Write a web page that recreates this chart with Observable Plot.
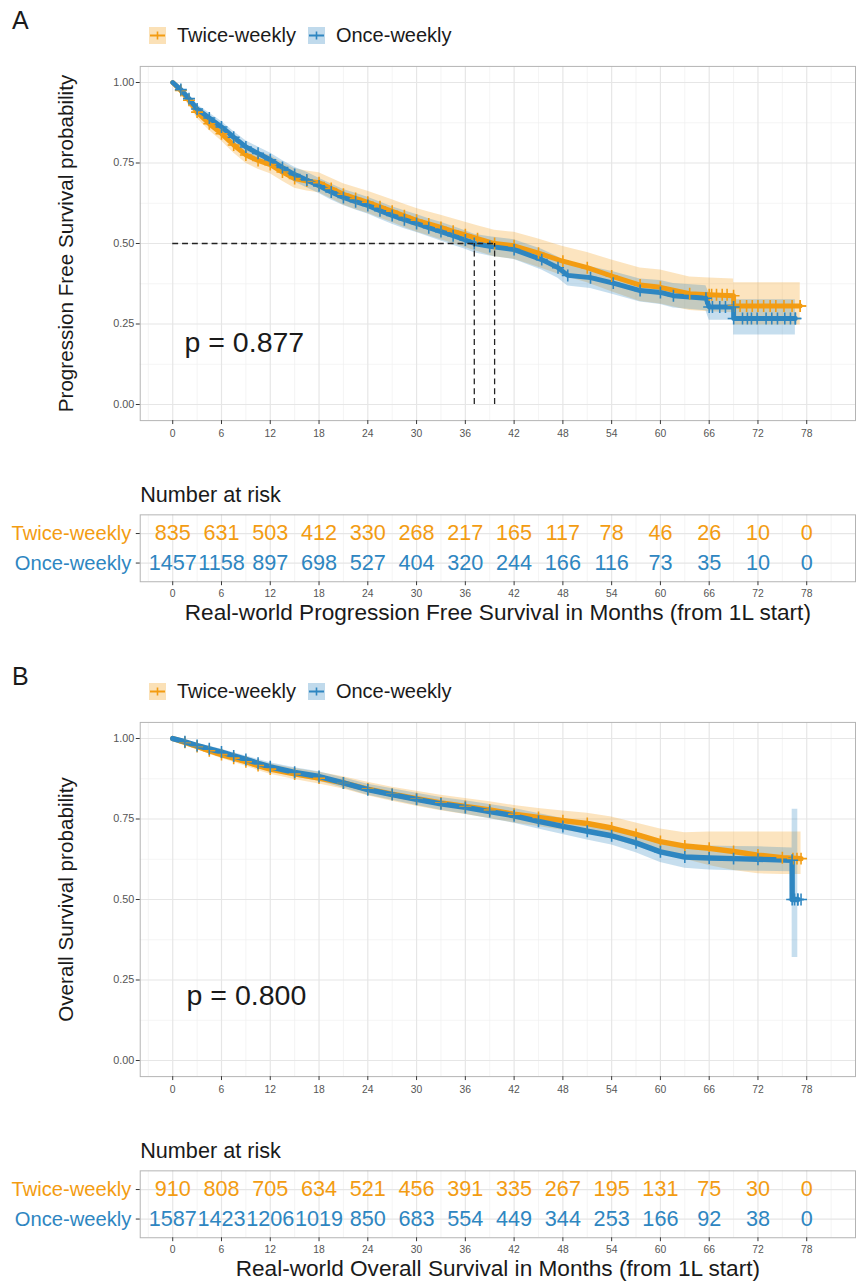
<!DOCTYPE html>
<html><head><meta charset="utf-8">
<script src="https://cdn.jsdelivr.net/npm/d3@7"></script>
<script src="https://cdn.jsdelivr.net/npm/@observablehq/plot@0.6"></script>
<style>
html,body{margin:0;padding:0;background:#fff;overflow:hidden;}
#root{position:relative;width:856px;height:1288px;overflow:hidden;font-family:"Liberation Sans",Arial,Helvetica,sans-serif;color:#1a1a1a;}
.lbl{position:absolute;font-size:25px;line-height:25px;}
.leg{position:absolute;display:flex;align-items:center;font-size:20px;line-height:20px;white-space:nowrap;}
.leg svg{display:block;margin-right:11px;}
.leg span{margin-right:12px;}
</style></head><body><div id="root"></div>
<script>
// ---------- shared ticks / labels ----------
const groups = ["Twice-weekly", "Once-weekly"];
const groupColors = ["#F39C12", "#2E86C1"];
const monthTicks = [0, 6, 12, 18, 24, 30, 36, 42, 48, 54, 60, 66, 72, 78];
const monthMinor = [-3, 3, 9, 15, 21, 27, 33, 39, 45, 51, 57, 63, 69, 75, 81];
const survTicks = [0, 0.25, 0.5, 0.75, 1];
const survMinor = [0.125, 0.375, 0.625, 0.875];

// ---------- Panel A: PFS  [month, survival, lower CI, upper CI] ----------
const pfsTwice = [
  [0,1,1,1],[1,0.975,0.964,0.986],[2,0.945,0.929,0.960],[3,0.908,0.889,0.927],
  [4.5,0.872,0.851,0.893],[6,0.841,0.818,0.864],[7.5,0.806,0.781,0.831],[9,0.775,0.749,0.801],
  [10.5,0.758,0.731,0.785],[12,0.745,0.717,0.773],[13.5,0.722,0.693,0.751],[15,0.702,0.672,0.732],
  [16.5,0.694,0.663,0.725],[18,0.689,0.658,0.720],[19.5,0.671,0.639,0.703],[21,0.653,0.620,0.686],
  [22.5,0.640,0.606,0.674],[24,0.628,0.594,0.662],[25.5,0.614,0.579,0.649],[27,0.600,0.565,0.636],
  [28.5,0.586,0.550,0.622],[30,0.572,0.536,0.609],[31.5,0.561,0.524,0.598],[33,0.550,0.512,0.588],
  [34.5,0.538,0.500,0.577],[36,0.527,0.488,0.566],[37.5,0.515,0.475,0.555],[39.6,0.500,0.459,0.541],
  [42,0.493,0.451,0.535],[45,0.470,0.426,0.514],[48,0.445,0.400,0.491],[51,0.425,0.378,0.472],
  [54,0.399,0.350,0.449],[57.5,0.371,0.320,0.424],[60,0.364,0.312,0.418],[63.6,0.344,0.292,0.396],
  [66,0.341,0.288,0.393],[69,0.338,0.285,0.390],[69.01,0.306,0.247,0.378],[77.2,0.306,0.247,0.378]
];
const pfsOnce = [
  [0,1,1,1],[1,0.978,0.970,0.986],[2,0.950,0.939,0.961],[3,0.918,0.904,0.931],
  [4.5,0.890,0.875,0.905],[6,0.862,0.845,0.879],[7.5,0.830,0.812,0.848],[9,0.800,0.781,0.819],
  [10.5,0.780,0.760,0.800],[12,0.760,0.739,0.781],[13.5,0.736,0.714,0.758],[15,0.714,0.691,0.737],
  [16.5,0.697,0.673,0.721],[18,0.679,0.655,0.703],[19.5,0.660,0.635,0.685],[21,0.643,0.618,0.668],
  [22.5,0.630,0.604,0.656],[24,0.618,0.592,0.644],[25.5,0.602,0.575,0.629],[27,0.587,0.560,0.614],
  [28.5,0.574,0.546,0.602],[30,0.562,0.534,0.590],[31.5,0.549,0.521,0.577],[33,0.537,0.508,0.566],
  [34.5,0.524,0.495,0.553],[36,0.511,0.482,0.540],[37.1,0.500,0.471,0.529],[39,0.491,0.461,0.521],
  [42,0.481,0.450,0.512],[45.4,0.450,0.418,0.482],[47.4,0.425,0.392,0.458],[48.6,0.401,0.368,0.434],
  [51.4,0.394,0.360,0.428],[54.2,0.377,0.342,0.412],[57.5,0.354,0.318,0.390],[60,0.348,0.311,0.385],
  [61.6,0.338,0.300,0.376],[65.6,0.330,0.291,0.369],[66,0.303,0.262,0.344],[69,0.303,0.262,0.344],
  [69.01,0.267,0.216,0.325],[76.6,0.267,0.216,0.325]
];
const pfsTwiceCensor = [[66.3,0.341],[66.9,0.341],[67.6,0.341],[68.2,0.341],[69.8,0.306],[70.6,0.306],
  [71.3,0.306],[72,0.306],[72.7,0.306],[73.5,0.306],[74.2,0.306],[75.2,0.306],[76.2,0.306],[77.2,0.306]];
const pfsOnceCensor = [[66.4,0.303],[67.3,0.303],[68,0.303],[70.1,0.267],[70.7,0.267],[71.2,0.267],
  [71.9,0.267],[73,0.267],[73.7,0.267],[74.4,0.267],[75.3,0.267],[76,0.267],[76.6,0.267]];
const pfsMedians = [37.1, 39.6];
const pfsRiskTwice = [835, 631, 503, 412, 330, 268, 217, 165, 117, 78, 46, 26, 10, 0];
const pfsRiskOnce = [1457, 1158, 897, 698, 527, 404, 320, 244, 166, 116, 73, 35, 10, 0];

// ---------- Panel B: OS ----------
const osTwice = [
  [0,1,1,1],[1.5,0.988,0.981,0.995],[3,0.975,0.966,0.984],[4.5,0.962,0.951,0.973],
  [6,0.950,0.938,0.962],[7.5,0.939,0.926,0.952],[9,0.928,0.914,0.942],[10.5,0.916,0.901,0.931],
  [12,0.905,0.889,0.921],[15,0.890,0.873,0.907],[18,0.877,0.859,0.895],[21,0.862,0.843,0.881],
  [24,0.843,0.822,0.864],[27,0.827,0.805,0.849],[30,0.813,0.790,0.836],[33,0.800,0.776,0.824],
  [36,0.789,0.764,0.814],[39,0.778,0.752,0.804],[42,0.765,0.738,0.792],[45,0.755,0.727,0.783],
  [48,0.745,0.715,0.775],[51,0.736,0.704,0.768],[54,0.722,0.688,0.756],[57,0.702,0.666,0.738],
  [60,0.680,0.641,0.719],[63,0.666,0.625,0.707],[66,0.659,0.606,0.710],[69,0.649,0.590,0.710],
  [72,0.638,0.580,0.710],[75,0.630,0.578,0.710],[77.3,0.627,0.578,0.710]
];
const osOnce = [
  [0,1,1,1],[1.5,0.990,0.985,0.995],[3,0.978,0.971,0.985],[4.5,0.968,0.960,0.976],
  [6,0.958,0.949,0.967],[7.5,0.946,0.936,0.956],[9,0.935,0.924,0.946],[10.5,0.923,0.911,0.935],
  [12,0.912,0.899,0.925],[15,0.895,0.881,0.909],[18,0.882,0.867,0.897],[21,0.862,0.846,0.878],
  [24,0.841,0.824,0.858],[27,0.826,0.808,0.844],[30,0.811,0.792,0.830],[33,0.797,0.777,0.817],
  [36,0.786,0.765,0.807],[39,0.773,0.751,0.795],[42,0.760,0.737,0.783],[45,0.743,0.719,0.767],
  [48,0.727,0.702,0.752],[51,0.712,0.685,0.739],[54,0.698,0.669,0.727],[57,0.676,0.645,0.707],
  [60,0.648,0.615,0.681],[63,0.632,0.597,0.667],[66,0.629,0.592,0.666],[69,0.627,0.589,0.665],
  [72,0.625,0.588,0.664],[76.2,0.622,0.586,0.660],[76.21,0.500,0.320,0.780],[76.9,0.500,0.320,0.780]
];
const osTwiceCensor = [[76.3,0.627],[76.8,0.627]];
const osOnceCensor = [[76.5,0.5],[76.9,0.5],[77.3,0.5]];
const osMedians = [];
const osRiskTwice = [910, 808, 705, 634, 521, 456, 391, 335, 267, 195, 131, 75, 30, 0];
const osRiskOnce = [1587, 1423, 1206, 1019, 850, 683, 554, 449, 344, 253, 166, 92, 38, 0];

// ---------- layout config ----------
const FONT = '"Liberation Sans", Arial, Helvetica, sans-serif';
const W = 870, ML = 142, MR = 1;
const xDomain = [-4, 84];
const panels = [
  {letter: "A", top: 0, yTitle: "Progression Free Survival probability",
   xTitle: "Real-world Progression Free Survival in Months (from 1L start)",
   series: [pfsTwice, pfsOnce], censor: [pfsTwiceCensor, pfsOnceCensor], medians: pfsMedians,
   risk: [pfsRiskTwice, pfsRiskOnce], p: "p = 0.877", pPos: [1.45, 0.19], lineW: 5},
  {letter: "B", top: 656, yTitle: "Overall Survival probability",
   xTitle: "Real-world Overall Survival in Months (from 1L start)",
   series: [osTwice, osOnce], censor: [osTwiceCensor, osOnceCensor], medians: osMedians,
   risk: [osRiskTwice, osRiskOnce], p: "p = 0.800", pPos: [1.7, 0.2], lineW: 5.5}
];

const root = document.getElementById("root");

function place(el, top, left) {
  el.style.position = "absolute";
  el.style.top = top + "px";
  el.style.left = (left || 0) + "px";
  root.appendChild(el);
}

function keySvg(color) {
  return `<svg width="17" height="17" viewBox="0 0 17 17"><rect width="17" height="17" fill="${color}" fill-opacity="0.3"/>` +
    `<line x1="1" x2="16" y1="8.5" y2="8.5" stroke="${color}" stroke-width="2"/>` +
    `<line x1="8.5" x2="8.5" y1="4.5" y2="12.5" stroke="${color}" stroke-width="1.6"/></svg>`;
}

for (const P of panels) {
  // letter
  const L = document.createElement("div");
  L.className = "lbl"; L.textContent = P.letter;
  place(L, P.top + 8, 12);

  // legend
  const leg = document.createElement("div");
  leg.className = "leg";
  leg.innerHTML = groups.map((g, i) => keySvg(groupColors[i]) + `<span>${g}</span>`).join("");
  place(leg, P.top + 25, 149);

  // main survival plot
  const marks = [
    Plot.gridX(monthMinor, {stroke: "#efefef", strokeOpacity: 1, strokeWidth: 0.7}),
    Plot.gridY(survMinor, {stroke: "#efefef", strokeOpacity: 1, strokeWidth: 0.7}),
    Plot.gridX(monthTicks, {stroke: "#e6e6e6", strokeOpacity: 1, strokeWidth: 1.2}),
    Plot.gridY(survTicks, {stroke: "#e6e6e6", strokeOpacity: 1, strokeWidth: 1.2}),
  ];
  P.series.forEach((s, i) => {
    marks.push(Plot.areaY(s, {x: d => d[0], y1: d => d[2], y2: d => d[3],
      fill: groupColors[i], fillOpacity: 0.27}));
  });
  P.series.forEach((s, i) => {
    marks.push(Plot.line(s, {x: d => d[0], y: d => d[1], stroke: groupColors[i],
      strokeWidth: P.lineW, strokeLinejoin: "round"}));
  });
  P.series.forEach((s, i) => {
    marks.push(Plot.dot(s.slice(1).concat(P.censor[i]), {x: d => d[0], y: d => d[1],
      symbol: "plus", r: 4, stroke: groupColors[i], strokeWidth: 1.6}));
  });
  if (P.medians.length) {
    marks.push(Plot.ruleY([0.5], {x1: 0, x2: d3.max(P.medians), stroke: "#222",
      strokeWidth: 1.3, strokeDasharray: "6,4"}));
    marks.push(Plot.ruleX(P.medians, {x: d => d, y1: 0, y2: 0.5, stroke: "#222",
      strokeWidth: 1.3, strokeDasharray: "6,4"}));
  }
  marks.push(
    Plot.frame({stroke: "#b3b3b3", strokeWidth: 1}),
    Plot.text([P.p], {x: P.pPos[0], y: P.pPos[1], text: d => d, textAnchor: "start",
      fontSize: 29, fill: "#1a1a1a"}),
    Plot.axisX(monthTicks, {tickSize: 4, tickPadding: 5, fontSize: 10.5, stroke: "#333", fill: "#555", label: null}),
    Plot.axisY(survTicks, {tickSize: 4, tickPadding: 2, fontSize: 11, tickFormat: d3.format(".2f"),
      stroke: "#333", fill: "#555", label: null}),
    Plot.text([P.yTitle], {frameAnchor: "left", dx: -75, rotate: -90, text: d => d,
      textAnchor: "middle", lineAnchor: "middle", fontSize: 21, fill: "#1a1a1a"})
  );
  const main = Plot.plot({
    width: W, height: 450, marginLeft: ML, marginRight: MR, marginTop: 67, marginBottom: 23,
    x: {domain: xDomain, label: null}, y: {domain: [-0.05, 1.05], label: null},
    style: {fontFamily: FONT, background: "transparent", overflow: "visible"},
    marks
  });
  place(main, P.top, 0);

  // risk table
  const riskRows = [];
  P.risk.forEach((arr, gi) => arr.forEach((n, k) =>
    riskRows.push({t: monthTicks[k], group: groups[gi], n, color: groupColors[gi]})));
  const table = Plot.plot({
    width: W, height: 160, marginLeft: ML, marginRight: MR, marginTop: 40, marginBottom: 52,
    x: {domain: xDomain, label: null},
    y: {type: "point", domain: groups, padding: 0.6, label: null},
    style: {fontFamily: FONT, background: "transparent", overflow: "visible"},
    marks: [
      Plot.gridX(monthMinor, {stroke: "#efefef", strokeOpacity: 1, strokeWidth: 0.7}),
      Plot.gridX(monthTicks, {stroke: "#e6e6e6", strokeOpacity: 1, strokeWidth: 1.2}),
      Plot.gridY(groups, {stroke: "#e6e6e6", strokeOpacity: 1, strokeWidth: 1.2}),
      Plot.frame({stroke: "#b3b3b3", strokeWidth: 1}),
      Plot.text(riskRows, {x: "t", y: "group", text: d => String(d.n), fill: d => d.color, fontSize: 22}),
      Plot.axisX(monthTicks, {tickSize: 4, tickPadding: 4, fontSize: 10.5, stroke: "#333", fill: "#555", label: null}),
      Plot.axisY(groups, {tickSize: 4, tickFormat: () => "", stroke: "#333", label: null}),
      Plot.text(groups.map((g, i) => ({group: g, color: groupColors[i]})),
        {y: "group", text: "group", frameAnchor: "left", dx: -9, textAnchor: "end",
         fill: d => d.color, fontSize: 20.5}),
      Plot.text(["Number at risk"], {frameAnchor: "top-left", dy: -20, textAnchor: "start",
        lineAnchor: "middle", text: d => d, fontSize: 22, fill: "#1a1a1a"}),
      Plot.text([P.xTitle], {frameAnchor: "bottom", dy: 32, text: d => d, textAnchor: "middle",
        lineAnchor: "middle", fontSize: 23, fill: "#1a1a1a"})
    ]
  });
  place(table, P.top + 475, 0);
}
</script></body></html>
